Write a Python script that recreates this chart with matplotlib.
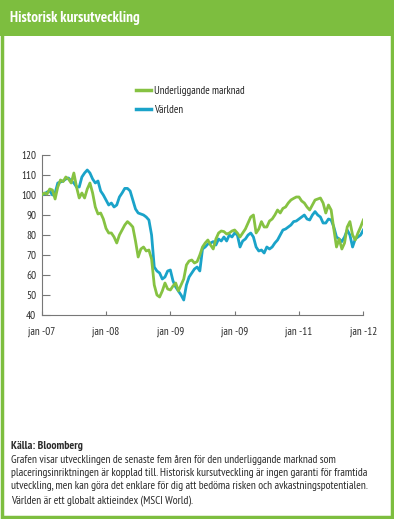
import matplotlib
matplotlib.use("Agg")
import matplotlib.pyplot as plt
import numpy as np
from matplotlib import font_manager
from matplotlib.patches import Rectangle
from matplotlib.lines import Line2D

# pick a condensed sans that is installed
installed = set(f.name for f in font_manager.fontManager.ttflist)
candidates = ['PT Sans Narrow', 'Roboto Condensed', 'Fira Sans Condensed',
              'Open Sans Condensed', 'Archivo Narrow', 'Liberation Sans Narrow',
              'Asap Condensed', 'IBM Plex Sans Condensed', 'Encode Sans Condensed']
narrow = [c for c in candidates if c in installed][:1]
plt.rcParams['font.family'] = narrow + ['DejaVu Sans']

# half-month steps since jan 2007 (0 .. 60)
months = np.arange(0, 60.5, 0.5)

# one row = six months
underliggande = [
    100, 101, 100.5, 103, 102.5, 98, 104, 107.5, 106.7, 109, 108, 106,
    111, 104, 98.5, 101, 98.5, 103, 106, 101, 94, 90.5, 91, 88,
    83.3, 81, 81, 79, 76, 80, 82.5, 85, 86.7, 85.5, 84, 77,
    69, 73, 74, 72, 72.5, 68, 55, 50, 49, 52, 56, 53,
    52.5, 54.5, 56, 52, 55, 58, 65, 67, 67.5, 66, 66.7, 70,
    74, 76, 77.5, 75, 73, 78, 81, 82, 81.7, 80.5, 81, 82,
    82.5, 81, 79, 81, 83, 86, 89, 90, 81, 83, 86.7, 84,
    84, 87, 88, 90, 92.5, 91, 93.3, 94, 96, 97.5, 98.3, 99,
    99, 97, 96, 94, 92.5, 95, 97.5, 98, 98.5, 96, 91, 95,
    92.5, 83, 74, 78, 73, 76, 84, 86.7, 80, 77.5, 81, 84,
    87.5]

varlden = [
    100, 100.5, 101.5, 102, 100, 101, 106, 106.5, 107, 108, 108.5, 107,
    106, 104, 104, 109, 111, 112.5, 111, 108, 106, 107, 102, 100,
    97.5, 95, 96, 94, 95, 99, 101, 103.3, 103.3, 102, 97.5, 93,
    91, 90.5, 90, 89, 87.5, 80, 64, 62, 61, 58, 59, 62,
    62.5, 57, 54, 52, 50, 47.5, 55, 59, 61, 63, 64, 62,
    73, 74, 75.5, 76, 76.7, 75, 78, 77, 79, 77, 80, 79,
    81, 80, 74, 77, 78, 80, 81, 79, 74, 72, 72.5, 71,
    74, 73, 74, 76, 77.5, 80, 82.5, 83, 84, 85, 86.7, 87,
    88, 89, 90, 88, 87.5, 90, 91.7, 90, 89, 86, 86, 88,
    87.5, 84, 79, 78, 76.7, 79, 82.5, 80, 74, 78, 79, 80,
    82.5]

tick_months = [0, 12, 24, 36, 48, 60]
tick_labels = ['jan -07', 'jan -08', 'jan -09', 'jan -09', 'jan -11', 'jan -12']

green = '#86C242'
blue = '#1AA3C9'
frame = '#7DBE3F'
text_col = '#2B2B2B'

fig = plt.figure(figsize=(3.94, 5.19), dpi=100)
renderer = fig.canvas.get_renderer()


def fit_width(t, width_px):
    # shrink/grow a text so it is width_px wide
    w = t.get_window_extent(renderer).width
    t.set_fontsize(t.get_fontsize() * width_px / w)


# frame and header band
fig.patches.append(Rectangle((0, 0), 1, 1, transform=fig.transFigure,
                             facecolor='white', edgecolor='none', zorder=-3))
fig.patches.append(Rectangle((0, 1 - 36 / 519), 1, 36 / 519, transform=fig.transFigure,
                             facecolor=frame, edgecolor='none', zorder=-2))
fig.patches.append(Rectangle((0.004, 0.004), 0.992, 0.99, transform=fig.transFigure,
                             facecolor='none', edgecolor=frame, linewidth=2.5, zorder=-1))
title = fig.text(10 / 394, 1 - 18 / 519, 'Historisk kursutveckling', color='white',
                 fontsize=10.5, fontweight='bold', va='center', ha='left')
fit_width(title, 132)

ax = fig.add_axes([41.7 / 394, 204 / 519, 321.6 / 394, 160 / 519])
ax.plot(months, varlden, color=blue, linewidth=2.0, zorder=2)
ax.plot(months, underliggande, color=green, linewidth=2.0, zorder=3)

ax.set_xlim(0, 60)
ax.set_ylim(40, 120)
ax.set_yticks(range(40, 121, 10))
ax.set_xticks(tick_months)
ax.set_xticklabels(tick_labels)
for s in ['top', 'right']:
    ax.spines[s].set_visible(False)
for s in ['left', 'bottom']:
    ax.spines[s].set_color('#777777')
    ax.spines[s].set_linewidth(0.8)
ax.tick_params(axis='y', direction='in', length=6, width=0.8, color='#777777',
               labelsize=8, labelcolor=text_col, pad=4)
ax.tick_params(axis='x', direction='in', length=3, width=0.8, color='#777777',
               labelsize=8, labelcolor=text_col, pad=8)

# legend
handles = [Line2D([], [], color=green, linewidth=2.5),
           Line2D([], [], color=blue, linewidth=2.5)]
fig.legend(handles, ['Underliggande marknad', 'Världen'], loc='upper left',
           bbox_to_anchor=(126 / 394, 1 - 76 / 519), frameon=False,
           fontsize=7.8, handlelength=1.4, handletextpad=0.3, labelspacing=0.85,
           labelcolor='#222222')

# footer
src = fig.text(11 / 394, 1 - 446 / 519, 'Källa: Bloomberg', fontsize=8, fontweight='bold',
               color=text_col, va='center')
fit_width(src, 72)
footer = ("Grafen visar utvecklingen de senaste fem åren för den underliggande marknad som\n"
          "placeringsinriktningen är kopplad till. Historisk kursutveckling är ingen garanti för framtida\n"
          "utveckling, men kan göra det enklare för dig att bedöma risken och avkastningspotentialen.\n"
          "Världen är ett globalt aktieindex (MSCI World).")
foot = fig.text(11 / 394, 1 - 455 / 519, footer, fontsize=7.5, color=text_col, va='top',
                linespacing=1.4)
fit_width(foot, 359)

plt.savefig('out.png', dpi=100)
